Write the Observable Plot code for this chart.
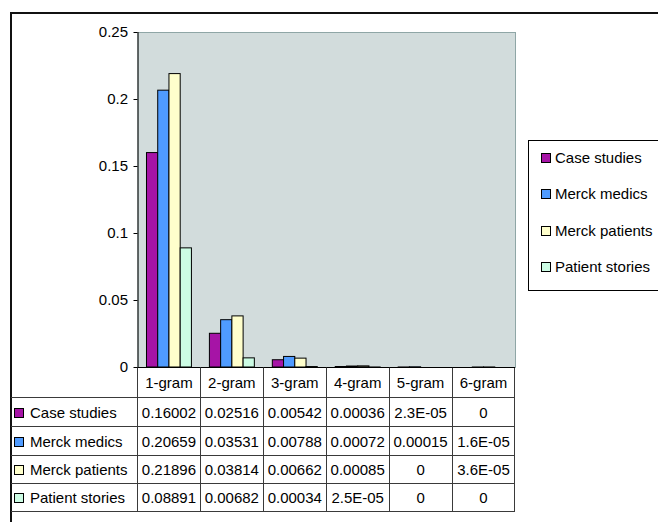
<!DOCTYPE html>
<html>
<head>
<meta charset="utf-8">
<script src="https://cdn.jsdelivr.net/npm/d3@7"></script>
<script src="https://cdn.jsdelivr.net/npm/@observablehq/plot@0.6"></script>
<style>
  html, body { margin: 0; padding: 0; background: #fff; overflow: hidden; }
  #page { position: relative; width: 658px; height: 522px; overflow: hidden;
          font-family: "Liberation Sans", Arial, sans-serif; color: #000; }
  #outer { position: absolute; left: 10px; top: 12px; width: 720px; height: 600px;
           border: 2px solid #111; box-sizing: border-box; }
  #chart { position: absolute; left: 0; top: 0; }
  #datatable { position: absolute; border-collapse: collapse; table-layout: fixed;
               font-size: 15px; }
  #datatable td { border: 1px solid #3a3a3a; padding: 0; text-align: center; white-space: nowrap; }
  #datatable tr.head td { border-top: none; }
  #datatable tr.head td.corner { border-left: none; }
  #datatable td.name { text-align: left; border-left: none; padding-left: 3px; }
  #datatable td.name .key { margin-right: 6px; }
  .key { display: inline-block; width: 8px; height: 8px; border: 1px solid #000;
         margin-right: 4px; vertical-align: 0px; }
  #legend { position: absolute; left: 528px; top: 140px; width: 200px; height: 151px;
            border: 1px solid #000; box-sizing: border-box; font-size: 15px; background: #fff; }
  #legend .item { position: absolute; left: 12px; white-space: nowrap; }
</style>
</head>
<body>
<div id="page">
  <div id="outer"></div>
  <div id="chart"></div>
  <table id="datatable"></table>
  <div id="legend"></div>
</div>
<script>
// n-gram categories and the four document collections
const grams = ["1-gram", "2-gram", "3-gram", "4-gram", "5-gram", "6-gram"];
const series = ["Case studies", "Merck medics", "Merck patients", "Patient stories"];
const seriesColors = ["#A614A6", "#4F9BFF", "#FFFFCC", "#CCFCE4"];

// relative frequency per n-gram length
const caseStudies    = [0.16002, 0.02516, 0.00542, 0.00036, 2.3e-5, 0];
const merckMedics    = [0.20659, 0.03531, 0.00788, 0.00072, 0.00015, 1.6e-5];
const merckPatients  = [0.21896, 0.03814, 0.00662, 0.00085, 0, 3.6e-5];
const patientStories = [0.08891, 0.00682, 0.00034, 2.5e-5, 0, 0];

const yTicks = [0, 0.05, 0.1, 0.15, 0.2, 0.25];

const seriesValues = [caseStudies, merckMedics, merckPatients, patientStories];
const rows = series.flatMap((s, i) =>
  grams.map((g, j) => ({series: s, gram: g, value: seriesValues[i][j]})));

// spreadsheet "General" style number text
function general(v) {
  if (v === 0) return "0";
  if (Math.abs(v) < 1e-4) {
    const [m, e] = v.toExponential(1).split("e");
    const n = Math.abs(+e);
    return `${m}E${+e < 0 ? "-" : "+"}${String(n).padStart(2, "0")}`;
  }
  return String(+v.toFixed(5));
}

const font = '"Liberation Sans", Arial, sans-serif';

const chart = Plot.plot({
  width: 520,
  height: 370,
  marginLeft: 137.5,
  marginRight: 5,
  marginTop: 32,
  marginBottom: 3,
  style: {fontFamily: font, fontSize: "15px", background: "transparent", color: "#000", overflow: "visible"},
  fx: {domain: grams, padding: 0, round: false, axis: null},
  x: {domain: series, paddingInner: 0, paddingOuter: 0.8, round: false, axis: null},
  y: {domain: [0, 0.25], axis: null},
  color: {domain: series, range: seriesColors},
  marks: [
    Plot.frame({facet: "super", fill: "#D2DCDC", stroke: "#8FA6A6"}),
    Plot.barY(rows, {fx: "gram", x: "series", y: "value", fill: "series",
                     stroke: "#000", strokeWidth: 1}),
    Plot.ruleY([0], {stroke: "#000", strokeWidth: 1}),
    Plot.frame({facet: "super", anchor: "left", stroke: "#000"}),
    Plot.axisY({ticks: yTicks, tickFormat: d => String(d), tickSize: 4, tickPadding: 6,
                fontSize: 15, label: null, stroke: "#000"})
  ]
});
document.getElementById("chart").appendChild(chart);

// data table under the plot, columns aligned to the n-gram bands
const fx = chart.scale("fx");
const color = chart.scale("color");
const tableLeft = 11;
const plotLeft = fx.range[0];
const step = (fx.range[1] - fx.range[0]) / grams.length;

const table = d3.select("#datatable")
  .style("left", `${tableLeft}px`)
  .style("top", `367.5px`);

const colgroup = table.append("colgroup");
colgroup.append("col").style("width", `${plotLeft - tableLeft}px`);
grams.forEach(() => colgroup.append("col").style("width", `${step}px`));

const head = table.append("tr").attr("class", "head").style("height", "30px");
head.append("td").attr("class", "corner");
grams.forEach(g => head.append("td").text(g));

const rowHeights = [29, 29, 28, 28];
series.forEach((s, i) => {
  const tr = table.append("tr").style("height", `${rowHeights[i]}px`);
  const name = tr.append("td").attr("class", "name");
  name.append("span").attr("class", "key").style("background", color.apply(s));
  name.append("span").text(s);
  seriesValues[i].forEach(v => tr.append("td").text(general(v)));
});

// legend box
const legend = d3.select("#legend");
series.forEach((s, i) => {
  const item = legend.append("div").attr("class", "item").style("top", `${8 + i * 36.3}px`);
  item.append("span").attr("class", "key").style("background", color.apply(s));
  item.append("span").text(s);
});
</script>
</body>
</html>
